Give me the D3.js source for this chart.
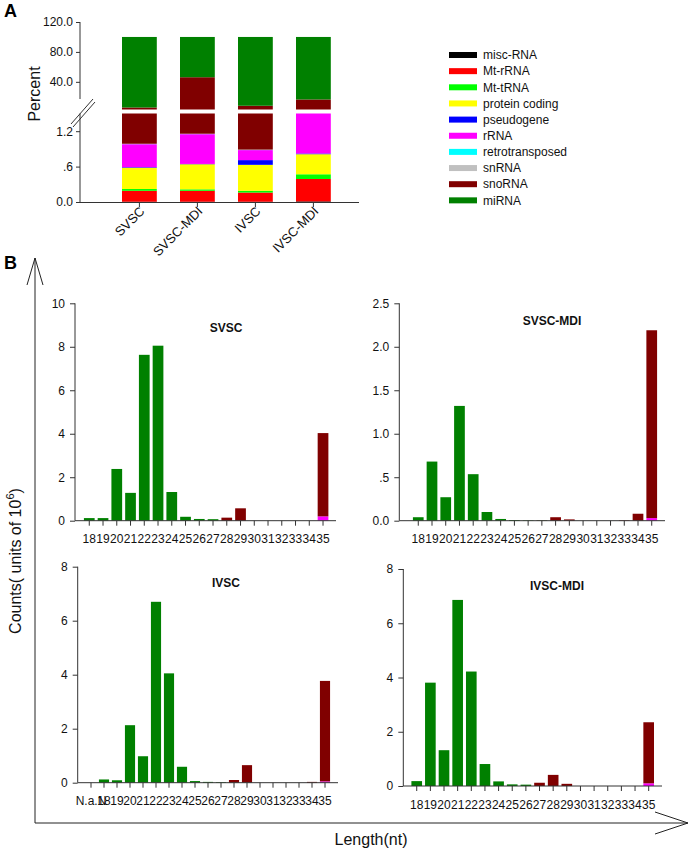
<!DOCTYPE html>
<html><head><meta charset="utf-8">
<script src="https://cdn.jsdelivr.net/npm/d3@7"></script>
<style>
html,body{margin:0;padding:0;background:#fff;}
svg{display:block;font-family:"Liberation Sans",Arial,sans-serif;}
</style></head>
<body><svg id="c" width="689" height="849"></svg>
<script>
// ---------- Panel A data (percent of reads) ----------
const samplesA = ["SVSC", "SVSC-MDI", "IVSC", "IVSC-MDI"];
const rnaTypes = ["misc-RNA","Mt-rRNA","Mt-tRNA","protein coding","pseudogene","rRNA","retrotransposed","snRNA","snoRNA","miRNA"];
const miscRNA        = [0.005, 0.005, 0.005, 0.01];
const mtrRNA         = [0.185, 0.185, 0.155, 0.38];
const mttRNA         = [0.03, 0.025, 0.03, 0.08];
const proteinCoding  = [0.36, 0.425, 0.44, 0.34];
const pseudogene     = [0.01, 0.005, 0.08, 0.012];
const rRNAPct        = [0.39, 0.505, 0.17, 1.2];
const retrotransposed= [0.002, 0.002, 0.003, 0.003];
const snRNAPct       = [0.005, 0.005, 0.005, 0.005];
const snoRNAPct      = [4.7, 45.0, 7.1, 14.4];
const miRNAPct       = [94.31, 53.84, 92.01, 83.57];
const upperTicksA = [40, 80, 120];
const lowerTicksA = [0, 0.6, 1.2];
const lowerTickLabelsA = ["0.0", ".6", "1.2"];

// ---------- Panel B data (counts, units of 10^6) ----------
const lengths = ["18","19","20","21","22","23","24","25","26","27","28","29","30","31","32","33","34","35"];
const lengthsIVSC = ["N.a.N","18","19","20","21","22","23","24","25","26","27","28","29","30","31","32","33","34","35"];

const svscMiRNA  = [0.12,0.12,2.38,1.28,7.63,8.05,1.32,0.18,0.08,0.07,0,0,0,0,0,0,0,0];
const svscSnoRNA = [0,0,0,0,0,0,0,0,0,0,0.14,0.57,0,0,0,0,0,3.83];
const svscRRNA   = [0,0,0,0,0,0,0,0,0,0,0,0,0,0,0,0,0,0.2];

const svscMdiMiRNA  = [0.04,0.68,0.27,1.32,0.535,0.10,0.02,0.008,0.004,0.003,0,0,0,0,0,0,0,0];
const svscMdiSnoRNA = [0,0,0,0,0,0,0,0,0,0.003,0.04,0.015,0,0,0,0.005,0.08,2.16];
const svscMdiRRNA   = [0,0,0,0,0,0,0,0,0,0,0,0,0,0,0,0,0,0.03];

const ivscMiRNA  = [0,0.12,0.09,2.13,0.98,6.7,4.05,0.59,0.06,0.03,0.02,0,0,0,0,0,0,0,0];
const ivscSnoRNA = [0,0,0,0,0,0,0,0,0,0,0,0.1,0.65,0,0,0,0,0.03,3.72];
const ivscRRNA   = [0,0,0,0,0,0,0,0,0,0,0,0,0,0,0,0,0,0,0.05];

const ivscMdiMiRNA  = [0.18,3.81,1.32,6.86,4.22,0.81,0.17,0.06,0.05,0,0,0,0,0,0,0,0,0];
const ivscMdiSnoRNA = [0,0,0,0,0,0,0,0,0,0.12,0.41,0.08,0,0,0,0,0,2.25];
const ivscMdiRRNA   = [0,0,0,0,0,0,0,0,0,0,0,0,0,0,0,0,0,0.1];

// ---------- styles ----------
const typeColors = ["#000000","#ff0000","#00ff00","#ffff00","#0000ff","#ff00ff","#00ffff","#c0c0c0","#800000","#008000"];
const AXIS = "#333";
const svg = d3.select("#c");

// ================= Panel A =================
svg.append("text").attr("x",4).attr("y",17).attr("font-size",18).attr("font-weight","bold").text("A");

const tableA = samplesA.map((s,i)=>({sample:s,
  "misc-RNA":miscRNA[i],"Mt-rRNA":mtrRNA[i],"Mt-tRNA":mttRNA[i],"protein coding":proteinCoding[i],
  "pseudogene":pseudogene[i],"rRNA":rRNAPct[i],"retrotransposed":retrotransposed[i],"snRNA":snRNAPct[i],
  "snoRNA":snoRNAPct[i],"miRNA":miRNAPct[i]}));
const stackA = d3.stack().keys(rnaTypes)(tableA);
const colorA = d3.scaleOrdinal().domain(rnaTypes).range(typeColors);

const xA = d3.scaleBand().domain(samplesA).range([110.4, 342.4]).paddingInner(0.4).paddingOuter(0.2);
const yLow = d3.scaleLinear().domain([0,1.5]).range([202,113.5]);
const yUp  = d3.scaleLinear().domain([3,120]).range([109.5,22]);
const LOWMAX = 1.5, UPMIN = 3;

const gA = svg.append("g");
stackA.forEach(series=>{
  series.forEach(d=>{
    const x = xA(d.data.sample), w = xA.bandwidth();
    const y0 = d[0], y1 = d[1];
    if (y1 <= y0) return;
    if (y0 < LOWMAX) {
      const top = Math.min(y1, LOWMAX);
      gA.append("rect").attr("x",x).attr("width",w)
        .attr("y",yLow(top)).attr("height",yLow(y0)-yLow(top)).attr("fill",colorA(series.key));
    }
    if (y1 > UPMIN) {
      const bot = Math.max(y0, UPMIN);
      gA.append("rect").attr("x",x).attr("width",w)
        .attr("y",yUp(y1)).attr("height",yUp(bot)-yUp(y1)).attr("fill",colorA(series.key));
    }
  });
});

// y axes (broken)
const axUp = svg.append("g").attr("transform","translate(80,0)")
  .call(d3.axisLeft(yUp).tickValues(upperTicksA).tickFormat(d3.format(".1f")).tickSize(4).tickPadding(3).tickSizeOuter(0));
axUp.select(".domain").remove();
const axLow = svg.append("g").attr("transform","translate(80,0)")
  .call(d3.axisLeft(yLow).tickValues(lowerTicksA).tickFormat((d,i)=>lowerTickLabelsA[i]).tickSize(4).tickPadding(3).tickSizeOuter(0));
axLow.select(".domain").remove();
[axUp,axLow].forEach(a=>{a.selectAll("text").attr("font-size",12).attr("fill","#111").attr("font-family","Liberation Sans, Arial, sans-serif");a.selectAll("line").attr("stroke",AXIS);});
svg.append("line").attr("x1",80).attr("x2",80).attr("y1",yUp(120)).attr("y2",99).attr("stroke",AXIS);
svg.append("line").attr("x1",80).attr("x2",80).attr("y1",113.5).attr("y2",202).attr("stroke",AXIS);
svg.append("line").attr("x1",71).attr("y1",124).attr("x2",93).attr("y2",99).attr("stroke",AXIS);
svg.append("line").attr("x1",73).attr("y1",127).attr("x2",95).attr("y2",102).attr("stroke",AXIS);
// x axis
svg.append("line").attr("x1",80).attr("x2",359).attr("y1",202.5).attr("y2",202.5).attr("stroke",AXIS);
samplesA.forEach(s=>{
  const cx = xA(s)+xA.bandwidth()/2;
  svg.append("line").attr("x1",cx).attr("x2",cx).attr("y1",202.5).attr("y2",207).attr("stroke",AXIS);
  svg.append("text").attr("transform",`translate(${cx+6},${212}) rotate(-45)`)
    .attr("text-anchor","end").attr("font-size",13).attr("fill","#111").text(s);
});
svg.append("text").attr("transform","translate(34,94) rotate(-90)").attr("text-anchor","middle")
  .attr("dy","0.35em").attr("font-size",16).attr("fill","#111").text("Percent");

// legend
const legY = d3.scaleLinear().domain([0,1]).range([55,71.15]);
rnaTypes.forEach((t,i)=>{
  const y = legY(i);
  svg.append("rect").attr("x",449).attr("y",y-3).attr("width",28).attr("height",6).attr("fill",colorA(t));
  svg.append("text").attr("x",483).attr("y",y).attr("dy","0.35em").attr("font-size",12).attr("fill","#111").text(t);
});

// ================= Panel B =================
svg.append("text").attr("x",4).attr("y",269).attr("font-size",18).attr("font-weight","bold").text("B");
// big axes with arrows
svg.append("line").attr("x1",35).attr("x2",35).attr("y1",258).attr("y2",823).attr("stroke","#222");
svg.append("line").attr("x1",35).attr("x2",688).attr("y1",823).attr("y2",823).attr("stroke","#222");
svg.append("polyline").attr("points","27,285 35,258 43,285").attr("fill","none").attr("stroke","#222");
svg.append("polyline").attr("points","655,812 688,823 655,834").attr("fill","none").attr("stroke","#222");
const yl = svg.append("text").attr("transform","translate(15,561) rotate(-90)").attr("text-anchor","middle")
  .attr("dy","0.35em").attr("font-size",16).attr("fill","#111");
yl.append("tspan").text("Counts( units of 10");
yl.append("tspan").attr("dy",-7).attr("font-size",11).text("6");
yl.append("tspan").attr("dy",7).text(")");
svg.append("text").attr("x",371).attr("y",845).attr("text-anchor","middle").attr("font-size",16).attr("fill","#111").text("Length(nt)");

const histColors = {rRNA:"#ff00ff", snoRNA:"#800000", miRNA:"#008000"};

function drawHist(cfg){
  const g = svg.append("g");
  const x = d3.scaleBand().domain(cfg.cats).range(cfg.xr).paddingInner(0.22).paddingOuter(0.11);
  const y = d3.scaleLinear().domain([0,cfg.ymax]).range(cfg.yr);
  const rows = cfg.cats.map((c,i)=>({cat:c, rRNA:cfg.rr[i], snoRNA:cfg.sno[i], miRNA:cfg.mi[i]}));
  const st = d3.stack().keys(["rRNA","snoRNA","miRNA"])(rows);
  st.forEach(s=>{
    g.selectAll(null).data(s.filter(d=>d[1]>d[0])).enter().append("rect")
      .attr("x",d=>x(d.data.cat)).attr("width",x.bandwidth())
      .attr("y",d=>y(d[1])).attr("height",d=>y(d[0])-y(d[1]))
      .attr("fill",histColors[s.key]);
  });
  const ay = g.append("g").attr("transform",`translate(${cfg.ax},0)`)
    .call(d3.axisLeft(y).tickValues(cfg.ticks).tickFormat(cfg.fmt).tickSize(5).tickPadding(5).tickSizeOuter(0));
  const axx = g.append("g").attr("transform",`translate(0,${cfg.yr[0]})`)
    .call(d3.axisBottom(x).tickSize(5).tickPadding(9).tickSizeOuter(0));
  [ay,axx].forEach(a=>{
    a.select(".domain").remove();
    a.selectAll("line").attr("stroke",AXIS);
    a.selectAll("text").attr("font-size",12).attr("fill","#111").attr("font-family","Liberation Sans, Arial, sans-serif");
  });
  g.append("line").attr("x1",cfg.ax).attr("x2",cfg.ax).attr("y1",cfg.yr[1]).attr("y2",cfg.yr[0]).attr("stroke",AXIS);
  g.append("line").attr("x1",cfg.ax).attr("x2",cfg.axEnd).attr("y1",cfg.yr[0]).attr("y2",cfg.yr[0]).attr("stroke",AXIS);
  g.append("text").attr("x",cfg.tx).attr("y",cfg.ty).attr("dy","0.35em").attr("text-anchor","middle")
    .attr("font-size",12).attr("font-weight","bold").attr("fill","#111").text(cfg.title);
}

drawHist({title:"SVSC", cats:lengths, mi:svscMiRNA, sno:svscSnoRNA, rr:svscRRNA,
  xr:[82.4,329.9], yr:[520.7,303.3], ymax:10, ticks:[0,2,4,6,8,10], fmt:d3.format("d"),
  ax:75, axEnd:336, tx:226, ty:328});
drawHist({title:"SVSC-MDI", cats:lengths, mi:svscMdiMiRNA, sno:svscMdiSnoRNA, rr:svscMdiRRNA,
  xr:[411.4,658.6], yr:[520.7,303.3], ymax:2.5, ticks:[0,0.5,1,1.5,2,2.5],
  fmt:d=>d===0.5?".5":d3.format(".1f")(d), ax:399.3, axEnd:665, tx:552, ty:321});
drawHist({title:"IVSC", cats:lengthsIVSC, mi:ivscMiRNA, sno:ivscSnoRNA, rr:ivscRRNA,
  xr:[84.5,331.5], yr:[782.7,566.7], ymax:8, ticks:[0,2,4,6,8], fmt:d3.format("d"),
  ax:77.7, axEnd:338, tx:226, ty:583});
drawHist({title:"IVSC-MDI", cats:lengths, mi:ivscMdiMiRNA, sno:ivscMdiSnoRNA, rr:ivscMdiRRNA,
  xr:[409.9,655.5], yr:[786,569], ymax:8, ticks:[0,2,4,6,8], fmt:d3.format("d"),
  ax:403.3, axEnd:662, tx:557, ty:586});
</script></body></html>
